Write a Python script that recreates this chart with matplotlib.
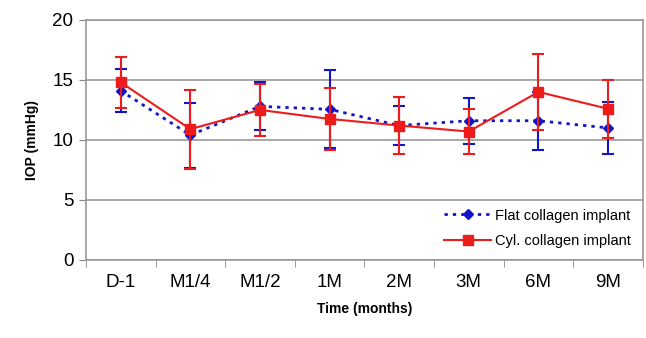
import numpy as np
import matplotlib
matplotlib.use("Agg")
import matplotlib.pyplot as plt
from matplotlib.lines import Line2D

plt.rcParams['font.family'] = ['Liberation Sans', 'DejaVu Sans']

# data
labels = ['D-1', 'M1/4', 'M1/2', '1M', '2M', '3M', '6M', '9M']
flat_mean = [14.1, 10.4, 12.8, 12.55, 11.2, 11.6, 11.6, 11.0]
flat_sd = [1.8, 2.7, 2.0, 3.25, 1.6, 1.9, 2.4, 2.2]
cyl_mean = [14.8, 10.9, 12.5, 11.75, 11.2, 10.7, 14.0, 12.6]
cyl_sd = [2.15, 3.3, 2.2, 2.55, 2.4, 1.9, 3.2, 2.4]

x = np.arange(len(labels))

fig = plt.figure(figsize=(6.46, 3.38), dpi=100)
ax = fig.add_axes([0.133, 0.231, 0.862, 0.710])

blue = '#1414c8'
red = '#ee1b1b'
blue_ls = (0, (1.2, 1.8))

ax.errorbar(x, flat_mean, yerr=flat_sd, color=blue, ls=blue_ls, lw=2,
            marker='D', ms=5.5, capsize=4, elinewidth=1.5, capthick=1.5, zorder=3)
ax.errorbar(x, cyl_mean, yerr=cyl_sd, color=red, ls='-', lw=1.5,
            marker='s', ms=7.5, capsize=4, elinewidth=1.5, capthick=1.5, zorder=4)

ax.set_xlim(-0.5, len(labels) - 0.5)
ax.set_ylim(0, 20)
ax.set_yticks([0, 5, 10, 15, 20])
ax.set_xticks(x)
ax.set_xticklabels(labels)
ax.set_xticks(np.arange(len(labels) + 1) - 0.5, minor=True)
ax.tick_params(axis='x', which='major', length=0, pad=10, labelsize=13.5)
ax.tick_params(axis='x', which='minor', length=5, direction='out', color='#888888')
ax.tick_params(axis='y', length=5, direction='out', color='#888888', labelsize=13.5, pad=4)

ax.grid(axis='y', color='#999999', lw=1.2)
ax.set_axisbelow(True)
for side in ['left', 'bottom', 'right', 'top']:
    ax.spines[side].set_color('#999999')
    ax.spines[side].set_linewidth(1.2)

ax.set_ylabel('IOP (mmHg)', fontsize=10, fontweight='bold', labelpad=10)
ax.set_xlabel('Time (months)', fontsize=10, fontweight='bold', labelpad=8)

handles = [
    Line2D([], [], color=blue, ls=blue_ls, lw=2, marker='D', ms=5.5),
    Line2D([], [], color=red, ls='-', lw=1.5, marker='s', ms=7.5),
]
ax.legend(handles, ['Flat collagen implant', 'Cyl. collagen implant'],
          loc='lower right', frameon=False, fontsize=10.5, handlelength=3.2,
          handletextpad=0.3, borderaxespad=0.4, labelspacing=0.8)

fig.savefig('out.png', dpi=100)
